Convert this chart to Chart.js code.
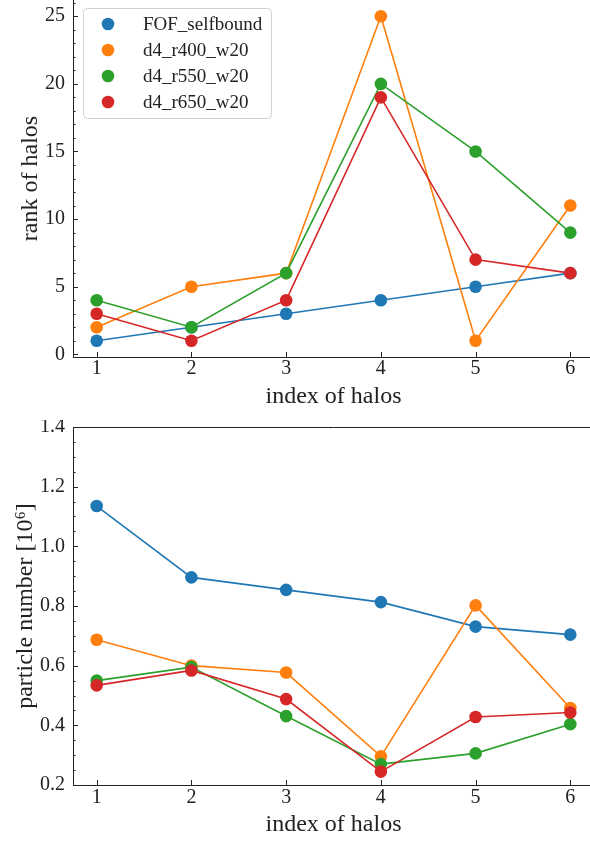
<!DOCTYPE html>
<html>
<head>
<meta charset="utf-8">
<script src="https://cdn.jsdelivr.net/npm/chart.js@4.4.1/dist/chart.umd.min.js"></script>
<style>
    html, body { margin: 0; padding: 0; background: #fff; overflow: hidden; }
    .box { position: absolute; left: 0; width: 600px; }
    #rankBox { top: 0; height: 420px; }
    #numberBox { top: 420px; height: 422px; }
</style>
</head>
<body>
<div class="box" id="rankBox"><canvas id="rankChart"></canvas></div>
<div class="box" id="numberBox"><canvas id="numberChart"></canvas></div>
<script>
// dados
const haloIndex = [1, 2, 3, 4, 5, 6];
const seriesNames = ['FOF_selfbound', 'd4_r400_w20', 'd4_r550_w20', 'd4_r650_w20'];
const seriesColors = ['#1f77b4', '#ff7f0e', '#2ca02c', '#d62728'];

const rankFOF = [1, 2, 3, 4, 5, 6];
const rankR400 = [2, 5, 6, 25, 1, 11];
const rankR550 = [4, 2, 6, 20, 15, 9];
const rankR650 = [3, 1, 4, 19, 7, 6];

const numFOF = [1.135, 0.896, 0.854, 0.813, 0.731, 0.704];
const numR400 = [0.687, 0.600, 0.577, 0.296, 0.802, 0.458];
const numR550 = [0.550, 0.595, 0.431, 0.270, 0.306, 0.404];
const numR650 = [0.534, 0.584, 0.488, 0.245, 0.428, 0.443];

const xTicks = [1, 2, 3, 4, 5, 6];
const rankTicks = [0, 5, 10, 15, 20, 25];
const numTicks = [0.2, 0.4, 0.6, 0.8, 1.0, 1.2, 1.4];

const FONT = "'Liberation Serif', 'DejaVu Serif', serif";
const INK = '#222';

function makeDatasets(values) {
    return values.map(function(vals, i) {
        return {
            label: seriesNames[i],
            data: haloIndex.map((x, k) => ({ x: x, y: vals[k] })),
            borderColor: seriesColors[i],
            backgroundColor: seriesColors[i],
            borderWidth: 1.6,
            pointRadius: 6.3,
            pointBorderWidth: 0,
            pointHoverRadius: 6.3,
            order: values.length - i   // o último fica por cima, como no matplotlib
        };
    });
}

// ticks para dentro (major e minor)
const inwardTicks = {
    id: 'inwardTicks',
    afterDraw(chart, args, opts) {
        const ctx = chart.ctx;
        const area = chart.chartArea;
        const xs = chart.scales.x, ys = chart.scales.y;
        ctx.save();
        ctx.strokeStyle = INK;
        ctx.lineWidth = 1;
        ctx.beginPath();
        xs.ticks.forEach(t => {
            const px = Math.round(xs.getPixelForValue(t.value)) + 0.5;
            ctx.moveTo(px, area.bottom);
            ctx.lineTo(px, area.bottom - 5);
        });
        ys.ticks.forEach(t => {
            const py = Math.round(ys.getPixelForValue(t.value)) + 0.5;
            ctx.moveTo(area.left, py);
            ctx.lineTo(area.left + 5, py);
        });
        const step = opts.minorStep;
        for (let v = ys.min; v <= ys.max + 1e-9; v += step) {
            const r = Math.round(v / step) * step;
            if (r < ys.min || r > ys.max) continue;
            const py = Math.round(ys.getPixelForValue(r)) + 0.5;
            ctx.moveTo(area.left, py);
            ctx.lineTo(area.left + 2.5, py);
        }
        ctx.stroke();
        if (opts.topSpine) {
            ctx.beginPath();
            ctx.moveTo(area.left, Math.round(area.top) + 0.5);
            ctx.lineTo(area.right, Math.round(area.top) + 0.5);
            ctx.stroke();
        }
        ctx.restore();
    }
};

// legenda desenhada dentro do gráfico, estilo matplotlib
const boxLegend = {
    id: 'boxLegend',
    afterDraw(chart, args, opts) {
        if (!opts.show) return;
        const ctx = chart.ctx;
        const x0 = 83, y0 = 8, w = 188, h = 110, r = 4;
        ctx.save();
        ctx.fillStyle = 'rgba(255,255,255,0.8)';
        ctx.strokeStyle = 'rgba(204,204,204,0.9)';
        ctx.lineWidth = 1;
        ctx.beginPath();
        ctx.roundRect(x0 + 0.5, y0 + 0.5, w, h, r);
        ctx.fill();
        ctx.stroke();
        ctx.font = '19px ' + FONT;
        ctx.textBaseline = 'middle';
        ctx.textAlign = 'left';
        chart.data.datasets.forEach(function(ds, i) {
            const yy = 24 + i * 26;
            ctx.fillStyle = ds.backgroundColor;
            ctx.beginPath();
            ctx.arc(108, yy, 6.3, 0, Math.PI * 2);
            ctx.fill();
            ctx.fillStyle = INK;
            ctx.fillText(ds.label, 143, yy + 1);
        });
        ctx.restore();
    }
};

function buildOptions(cfg) {
    return {
        responsive: true,
        maintainAspectRatio: false,
        animation: false,
        layout: { padding: cfg.padding, autoPadding: false },
        plugins: {
            legend: { display: false },
            tooltip: { enabled: false },
            inwardTicks: { minorStep: cfg.minorStep, topSpine: cfg.topSpine },
            boxLegend: { show: cfg.legend }
        },
        scales: {
            x: {
                type: 'linear',
                min: 0.75,
                max: 6.25,
                afterBuildTicks: s => { s.ticks = xTicks.map(v => ({ value: v })); },
                afterFit: s => {
                    s.height = cfg.xHeight;
                    s.paddingLeft = 0;
                    s.paddingRight = 0;
                },
                grid: { display: false, drawTicks: false },
                border: { display: true, color: INK, width: 1 },
                ticks: {
                    padding: cfg.xTickPad,
                    color: INK,
                    font: { family: FONT, size: 20 },
                    callback: v => String(v)
                },
                title: {
                    display: true,
                    text: 'index of halos',
                    color: INK,
                    font: { family: FONT, size: 24 },
                    padding: { top: 0, bottom: cfg.xTitlePad }
                }
            },
            y: {
                type: 'linear',
                min: cfg.yMin,
                max: cfg.yMax,
                afterBuildTicks: s => { s.ticks = cfg.yTicks.map(v => ({ value: v })); },
                afterFit: s => {
                    s.width = 73;
                    s.paddingTop = 0;
                    s.paddingBottom = 0;
                },
                grid: { display: false, drawTicks: false },
                border: { display: true, color: INK, width: 1 },
                ticks: {
                    padding: 8,
                    color: INK,
                    font: { family: FONT, size: 20 },
                    callback: cfg.yFormat
                },
                title: {
                    display: true,
                    text: cfg.yTitle,
                    color: INK,
                    font: { family: FONT, size: 24 },
                    padding: { top: cfg.yTitlePad, bottom: 0 }
                }
            }
        }
    };
}

new Chart(document.getElementById('rankChart'), {
    type: 'line',
    data: { datasets: makeDatasets([rankFOF, rankR400, rankR550, rankR650]) },
    options: buildOptions({
        padding: { top: 0, right: 6, bottom: 0, left: 0 },
        xHeight: 63, xTickPad: 0, xTitlePad: 9,
        yMin: -0.2, yMax: 26.2, yTicks: rankTicks, minorStep: 1,
        yFormat: v => String(v),
        yTitle: 'rank of halos', yTitlePad: 16,
        topSpine: false, legend: true
    }),
    plugins: [inwardTicks, boxLegend]
});

new Chart(document.getElementById('numberChart'), {
    type: 'line',
    data: { datasets: makeDatasets([numFOF, numR400, numR550, numR650]) },
    options: buildOptions({
        padding: { top: 7, right: 6, bottom: 0, left: 0 },
        xHeight: 57, xTickPad: 1, xTitlePad: 2.5,
        yMin: 0.2, yMax: 1.4, yTicks: numTicks, minorStep: 0.05,
        yFormat: v => Number(v).toFixed(1),
        yTitle: 'particle number [10\u2076]', yTitlePad: 11,
        topSpine: true, legend: false
    }),
    plugins: [inwardTicks, boxLegend]
});
</script>
</body>
</html>
